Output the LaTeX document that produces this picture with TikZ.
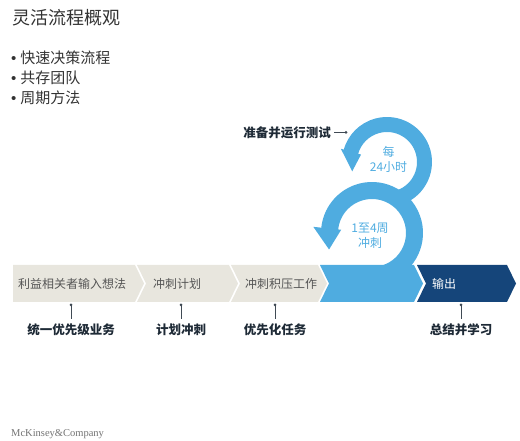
\documentclass[tikz,border=0pt]{standalone}
\usepackage{fontspec}
\setmainfont{Noto Sans CJK SC}
\newfontfamily\logofont{Liberation Serif}
\newfontfamily\dotfont{Liberation Sans}
\usetikzlibrary{calc}

\definecolor{sprintblue}{HTML}{4FACE0}
\definecolor{navy}{HTML}{15457A}
\definecolor{sand}{HTML}{E8E6DE}
\definecolor{txtgray}{HTML}{555555}
\definecolor{ink}{HTML}{1E2A36}

\begin{document}
\begin{tikzpicture}[x=1pt,y=1pt,line join=round,
  steptext/.style={anchor=west,inner sep=0pt,text=txtgray,font=\fontsize{12}{14}\selectfont},
  pinlabel/.style={inner sep=0pt,text=ink,font=\bfseries\fontsize{12.5}{14}\selectfont},
  pinline/.style={draw=ink!85,line width=0.8pt},
  pindot/.style={fill=ink!85},
  ringtext/.style={align=center,text=sprintblue,font=\fontsize{12}{15}\selectfont}]
  \useasboundingbox (0,0) rectangle (520,441);

  % title and points
  \node[anchor=west,inner sep=0pt,text=black!80,font=\fontsize{18}{20}\selectfont] (title) at (12,423) {灵活流程概观};
  \foreach \t [count=\i] in {快速决策流程,共存团队,周期方法}
    \node[anchor=west,inner sep=0pt,text=black!80,font=\fontsize{15}{17}\selectfont] (pt\i) at (11,403-20*\i) {{\dotfont •}\hspace{4pt}\t};

  % chevrons
  \fill[sand] (13,176) -- (135,176) -- (144,157.5) -- (135,139) -- (13,139) -- cycle;
  \fill[sand] (137,176) -- (229,176) -- (238,157.5) -- (229,139) -- (137,139) -- (146,157.5) -- cycle;
  \fill[sand] (231,176) -- (318,176) -- (327,157.5) -- (318,139) -- (231,139) -- (240,157.5) -- cycle;
  \fill[sprintblue] (320,176) -- (414,176) -- (423,157.5) -- (414,139) -- (320,139) -- (329,157.5) -- cycle;
  \fill[navy] (417,176) -- (507,176) -- (516,157.5) -- (507,139) -- (417,139) -- (426,157.5) -- cycle;

  % cycles
  \coordinate (U) at (387,279);
  \coordinate (L) at (372,208);
  \draw[sprintblue,line width=17pt] ($(L)+(-70:42.5)$) arc[start angle=-70,end angle=175,radius=42.5];
  \fill[sprintblue] ($(L)+(174:31)$) -- ($(L)+(174:59)$) -- ($(L)+(201:46)$) -- cycle;
  \draw[sprintblue,line width=15pt] ($(U)+(-75:37.5)$) arc[start angle=-75,end angle=165,radius=37.5];
  \fill[sprintblue] ($(U)+(164:27)$) -- ($(U)+(164:48)$) -- ($(U)+(195:36)$) -- cycle;
  \node[ringtext] (day) at (388.5,281.5) {每\\24小时};
  \node[ringtext] (sprint) at (370,205) {1至4周\\冲刺};

  \coordinate (tdot) at (346,308.5);
  \node[pinlabel,anchor=east] (test) at (331,308.5) {准备并运行测试};
  \draw[pinline,shorten <=3pt] (test.east) -- (tdot);
  \fill[pindot] (tdot) circle (1.5);

  % step names
  \node[steptext] (s1) at (18,157.5) {利益相关者输入想法};
  \node[steptext] (s2) at (153,157.5) {冲刺计划};
  \node[steptext] (s3) at (245,157.5) {冲刺积压工作};
  \node[steptext,text=white] (s4) at (432,157.5) {输出};

  % pins below
  \foreach \x/\t [count=\i] in {71/统一优先级业务,181/计划冲刺,275/优先化任务,461/总结并学习}{
    \coordinate (d\i) at (\x,136);
    \node[pinlabel] (l\i) at (\x,111) {\t};
    \draw[pinline,shorten >=5pt] (d\i) -- (l\i.north);
    \fill[pindot] (d\i) circle (1.5);
  }

  \node[anchor=west,inner sep=0pt,text=black!55,font=\logofont\fontsize{10.5}{12}\selectfont] (logo) at (11,7) {McKinsey\&Company};
\end{tikzpicture}
\end{document}
